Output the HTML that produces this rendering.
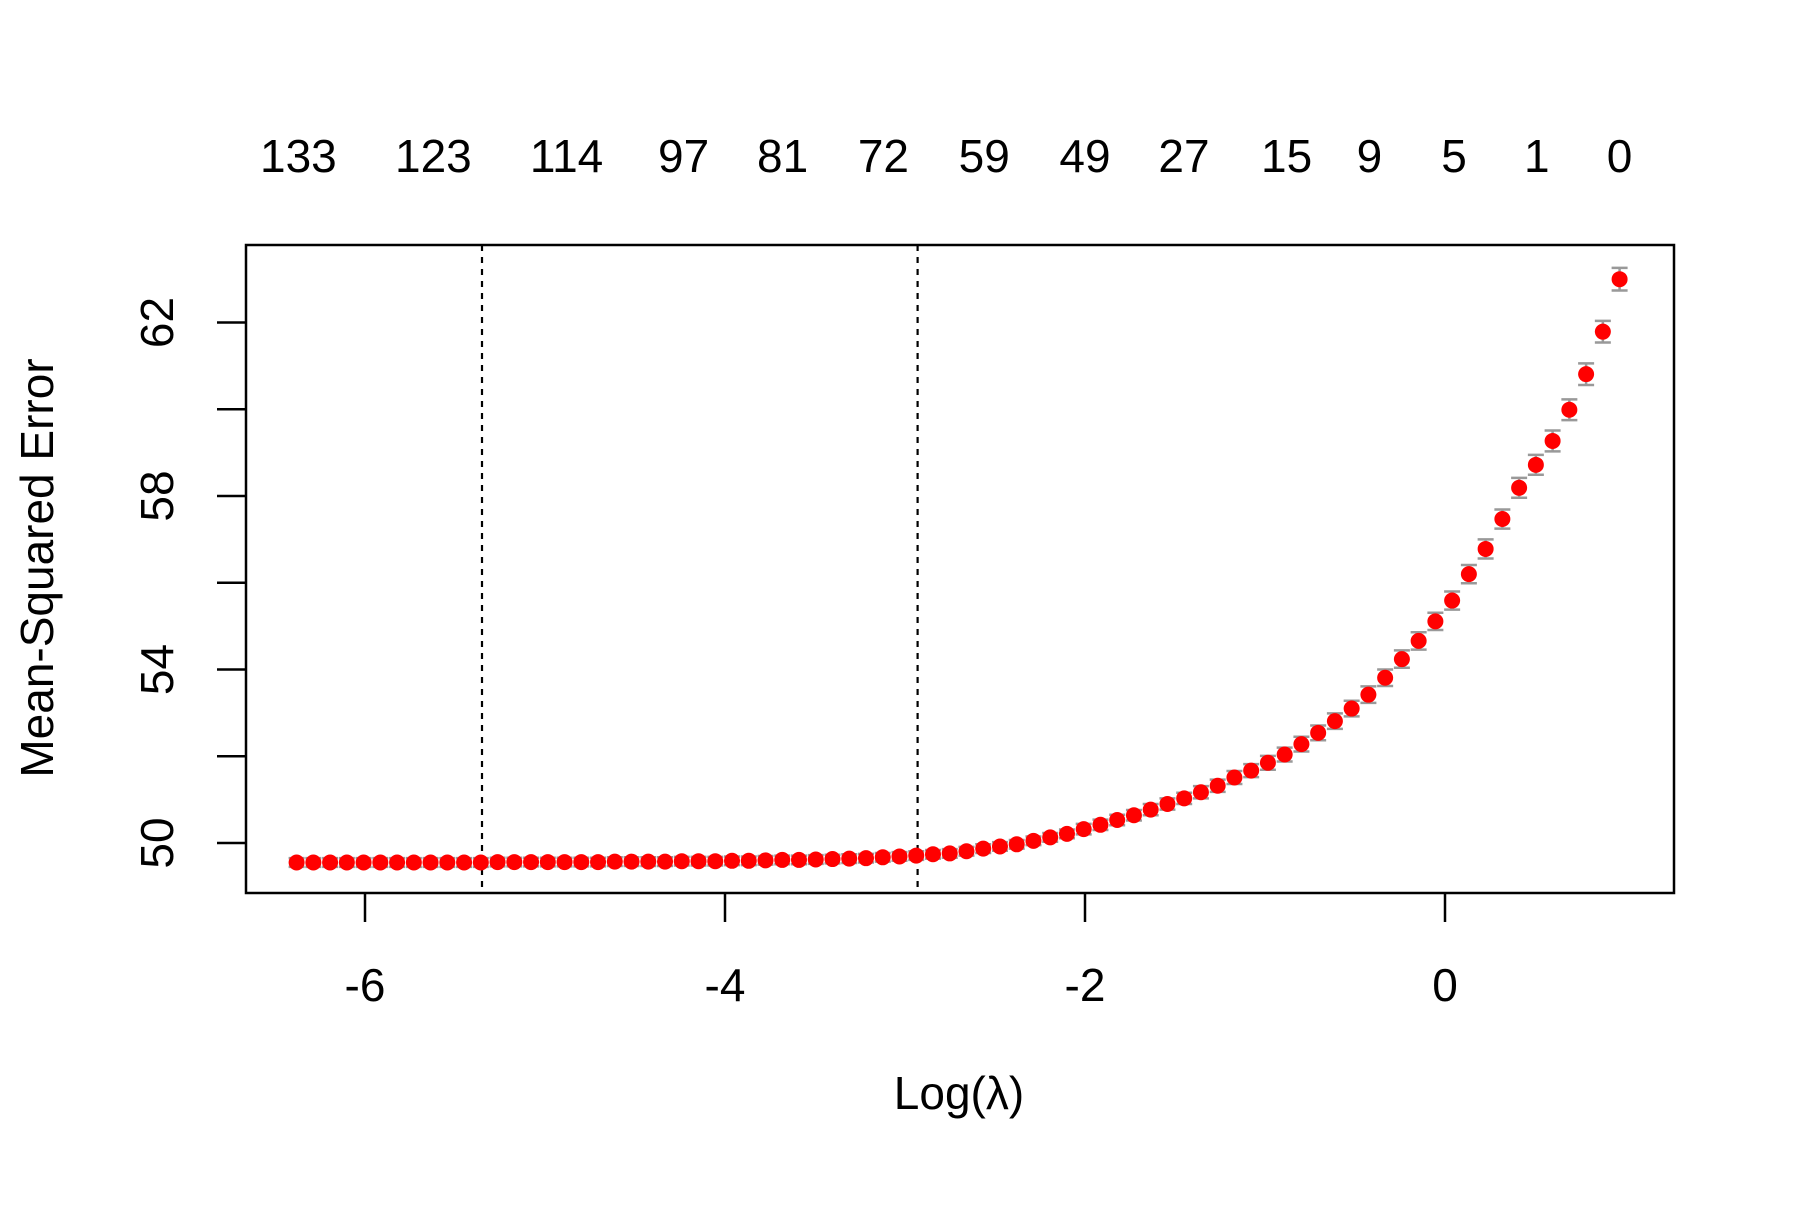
<!DOCTYPE html>
<html><head><meta charset="utf-8"><style>
html,body{margin:0;padding:0;background:#fff;}
svg text{font-family:"Liberation Sans",Arial,sans-serif;fill:#000;}
</style></head><body>
<svg id="chart" width="1800" height="1200" viewBox="0 0 1800 1200" xmlns="http://www.w3.org/2000/svg">
<rect width="1800" height="1200" fill="#fff"/>
<g id="g"></g>
</svg>
<script>
const mseValues=[49.55,49.55,49.55,49.55,49.55,49.55,49.55,49.55,49.55,49.55,49.55,49.55,49.56,49.56,49.56,49.56,49.56,49.56,49.56,49.57,49.57,49.57,49.57,49.58,49.58,49.58,49.59,49.59,49.60,49.61,49.61,49.62,49.63,49.64,49.65,49.67,49.69,
49.71,49.74,49.76,49.81,49.87,49.92,49.97,50.05,50.13,50.21,50.32,50.42,50.53,50.64,50.77,50.90,51.03,51.17,51.32,51.51,51.67,51.85,52.04,52.28,52.54,52.81,53.10,53.42,53.81,54.24,54.66,55.11,55.59,56.20,56.78,57.47,58.19,58.72,59.27,59.99,60.81,61.79,63.00];
const seValues=[0.1,0.1,0.1,0.1,0.1,0.1,0.1,0.1,0.1,0.1,0.1,0.1,0.1,0.1,0.1,0.1,0.1,0.1,0.1,0.1,0.1,0.1,0.1,0.1,0.1,0.1,0.1,0.1,0.1,0.1,0.1,0.1,0.1,0.1,0.1,0.1,0.1,
0.1,0.1,0.1,0.1,0.1,0.1,0.1,0.1,0.1,0.1,0.12,0.12,0.12,0.12,0.13,0.13,0.13,0.14,0.14,0.15,0.15,0.16,0.16,0.17,0.17,0.18,0.18,0.19,0.19,0.2,0.2,0.2,0.21,0.21,0.22,0.22,0.23,0.23,0.24,0.24,0.25,0.25,0.26];
const logLambdaStart=-6.38, logLambdaEnd=0.97;
const xTicks=[-6,-4,-2,0];
const yTicks=[50,52,54,56,58,60,62];
const yTickLabels=["50","","54","","58","","62"];
const topLabels=["133","123","114","97","81","72","59","49","27","15","9","5","1","0"];
const topPositions=[-6.37,-5.62,-4.88,-4.23,-3.68,-3.12,-2.56,-2.0,-1.45,-0.88,-0.42,0.05,0.51,0.97];
const vlines=[-5.35,-2.93];

const NS="http://www.w3.org/2000/svg";
const g=document.getElementById('g');
const X=v=>1445+(v)*180;
const Y=v=>843-(v-50)*43.37;
function el(tag,attrs,text){const e=document.createElementNS(NS,tag);for(const k in attrs)e.setAttribute(k,attrs[k]);if(text!==undefined)e.textContent=text;g.appendChild(e);return e;}
const n=mseValues.length;
const step=(logLambdaEnd-logLambdaStart)/(n-1);
vlines.forEach((v,i)=>{const e=el('line',{x1:X(v),x2:X(v),y1:245,y2:893,stroke:'#000','stroke-width':2.2,'stroke-dasharray':'6,6'});

});
mseValues.forEach((m,i)=>{const x=X(logLambdaStart+i*step);const s=seValues[i];
const eb=el('path',{d:`M${x},${Y(m-s)}V${Y(m+s)}M${x-8},${Y(m-s)}H${x+8}M${x-8},${Y(m+s)}H${x+8}`,stroke:'#999','stroke-width':2.5,fill:'none'});


const c=el('circle',{cx:x,cy:Y(m),r:8,fill:'#ff0000'});

});
const box=el('rect',{x:246,y:245,width:1428,height:648,fill:'none',stroke:'#000','stroke-width':2.5});


xTicks.forEach(v=>{const t=el('line',{x1:X(v),x2:X(v),y1:893,y2:922,stroke:'#000','stroke-width':2.5});


const l=el('text',{x:X(v),y:1001,'font-size':46,'text-anchor':'middle'},String(v));

});
yTicks.forEach((v,i)=>{const t=el('line',{x1:246,x2:217,y1:Y(v),y2:Y(v),stroke:'#000','stroke-width':2.5});


if(yTickLabels[i]){const l=el('text',{x:0,y:0,'font-size':46,'text-anchor':'middle',transform:`translate(173,${Y(v)}) rotate(-90)`},yTickLabels[i]);

}});
topLabels.forEach((s,i)=>{const l=el('text',{x:X(topPositions[i]),y:172,'font-size':46,'text-anchor':'middle'},s);

});
const xt=el('text',{x:959,y:1109,'font-size':46,'text-anchor':'middle'},'Log(λ)');


const yt=el('text',{x:0,y:0,'font-size':46,'text-anchor':'middle',transform:'translate(53,568) rotate(-90)'},'Mean-Squared Error');


</script>
</body></html>
